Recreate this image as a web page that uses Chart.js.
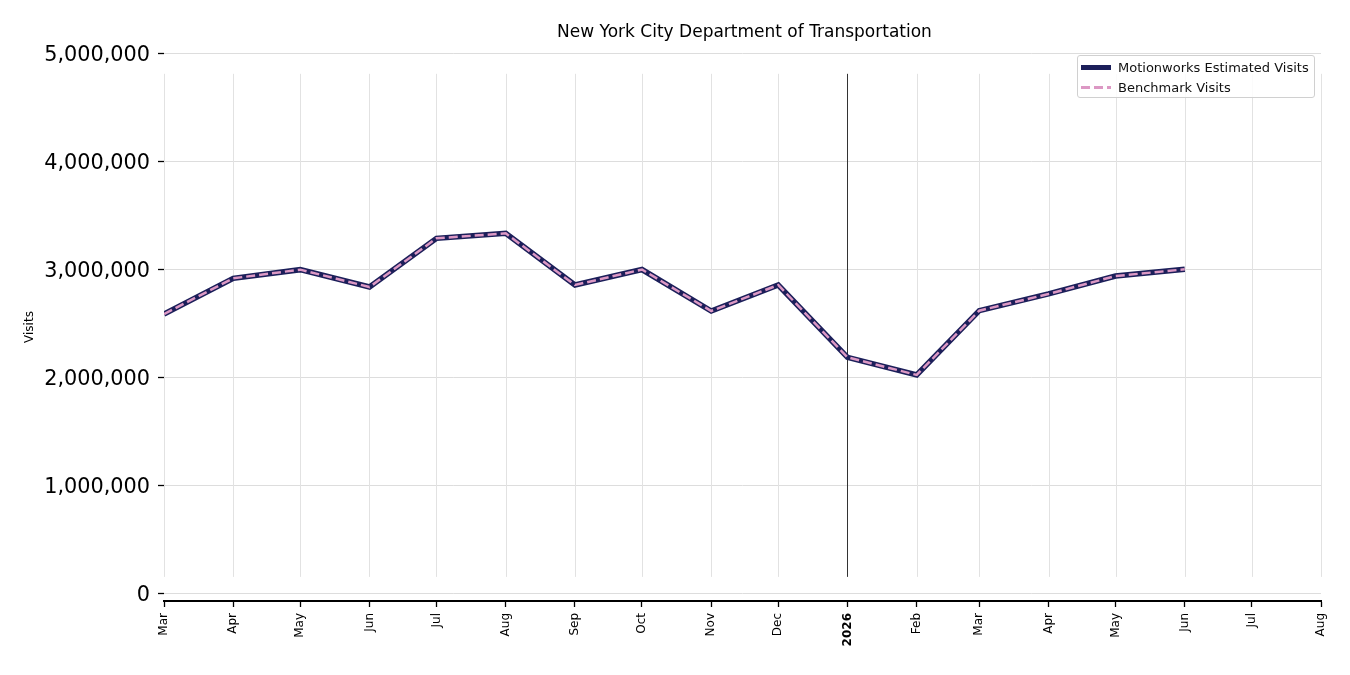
<!DOCTYPE html>
<html>
<head>
<meta charset="utf-8">
<script src="https://cdn.jsdelivr.net/npm/chart.js@4.4.1/dist/chart.umd.min.js"></script>
<style>
  html, body { margin: 0; padding: 0; background: #fff; }
  #wrap { position: relative; width: 1350px; height: 675px; }
  #legend {
    position: absolute; left: 1077px; top: 55px; width: 236px; height: 41px;
    border: 1px solid #d0d0d0; border-radius: 3px; background: rgba(255,255,255,0.85);
    font-family: "DejaVu Sans", sans-serif; font-size: 13px; color: #111;
  }
  .item { position: absolute; left: 3px; height: 20px; display: flex; align-items: center; white-space: nowrap; }
  .item .sw { width: 30px; height: 0; margin-right: 7px; }
</style>
</head>
<body>
<div id="wrap">
  <canvas id="c" width="1350" height="675"></canvas>
  <div id="legend">
    <div class="item" style="top:1px"><div class="sw" style="border-top:5px solid #1c1f5a"></div><span>Motionworks Estimated Visits</span></div>
    <div class="item" style="top:21px"><div class="sw" style="height:3px;border:0;background:repeating-linear-gradient(90deg,#dc98c4 0 9px,transparent 9px 13px)"></div><span>Benchmark Visits</span></div>
  </div>
</div>
<script>
const chartTitle = 'New York City Department of Transportation';
const dates = ['2025-03-01','2025-04-01','2025-05-01','2025-06-01','2025-07-01','2025-08-01','2025-09-01','2025-10-01','2025-11-01','2025-12-01','2026-01-01','2026-02-01','2026-03-01','2026-04-01','2026-05-01','2026-06-01'];
const motionworks = [2583000, 2914000, 2994000, 2833000, 3284000, 3330000, 2852000, 2995000, 2611000, 2852000, 2182000, 2019000, 2614000, 2769000, 2935000, 2997000];
const benchmark   = [2583000, 2914000, 2994000, 2833000, 3284000, 3330000, 2852000, 2995000, 2611000, 2852000, 2182000, 2019000, 2614000, 2769000, 2935000, 2997000];
const tickDates = ['2025-03-01','2025-04-01','2025-05-01','2025-06-01','2025-07-01','2025-08-01','2025-09-01','2025-10-01','2025-11-01','2025-12-01','2026-01-01','2026-02-01','2026-03-01','2026-04-01','2026-05-01','2026-06-01','2026-07-01','2026-08-01'];
const tickLabels = ['Mar','Apr','May','Jun','Jul','Aug','Sep','Oct','Nov','Dec','2026','Feb','Mar','Apr','May','Jun','Jul','Aug'];
const yTicks = [0, 1000000, 2000000, 3000000, 4000000, 5000000];
const yMin = -74000, yMax = 5000000;
const yearMarker = '2026-01-01';

function toDay(s) { const p = s.split('-').map(Number); return Date.UTC(p[0], p[1]-1, p[2]) / 86400000; }
const mwData = dates.map((d, i) => ({ x: toDay(d), y: motionworks[i] }));
const bmData = dates.map((d, i) => ({ x: toDay(d), y: benchmark[i] }));
const tickVals = tickDates.map(toDay);
const yearVal = toDay(yearMarker);

const FONT = '"DejaVu Sans", sans-serif';

const deco = {
  id: 'deco',
  beforeDatasetsDraw(chart) {
    const { ctx, chartArea: a, scales: { x } } = chart;
    const h = a.bottom - a.top;
    const y0 = a.top + h * 0.038, y1 = a.bottom - h * 0.044;
    ctx.save();
    tickVals.forEach(v => {
      const px = Math.round(x.getPixelForValue(v)) + 0.5;
      ctx.beginPath();
      ctx.strokeStyle = v === yearVal ? '#333333' : '#e2e2e2';
      ctx.lineWidth = 1;
      ctx.moveTo(px, y0); ctx.lineTo(px, y1); ctx.stroke();
    });
    ctx.restore();
  },
  afterDraw(chart) {
    const { ctx, chartArea: a } = chart;
    ctx.save();
    ctx.font = '17px ' + FONT;
    ctx.fillStyle = '#000';
    ctx.textAlign = 'center';
    ctx.textBaseline = 'alphabetic';
    ctx.fillText(chartTitle, (a.left + a.right) / 2 + 2, 37);
    ctx.restore();
  }
};

new Chart(document.getElementById('c'), {
  type: 'line',
  data: {
    datasets: [
      { label: 'Benchmark Visits', data: bmData, borderColor: '#dc98c4', borderWidth: 2.5, borderDash: [9, 4], pointRadius: 0, tension: 0, order: 0 },
      { label: 'Motionworks Estimated Visits', data: mwData, borderColor: '#1c1f5a', borderWidth: 5.5, pointRadius: 0, tension: 0, order: 1 }
    ]
  },
  options: {
    responsive: false,
    animation: false,
    devicePixelRatio: 1,
    layout: { padding: { top: 53, right: 29, left: 0, bottom: 0 } },
    plugins: { legend: { display: false }, title: { display: false }, tooltip: { enabled: false } },
    scales: {
      x: {
        type: 'linear',
        min: tickVals[0], max: tickVals[tickVals.length - 1],
        afterBuildTicks: s => { s.ticks = tickVals.map(v => ({ value: v })); },
        afterFit: s => { s.height = 74; },
        grid: { drawOnChartArea: false, drawTicks: true, tickLength: 6, tickColor: '#000', tickWidth: 1.3 },
        border: { display: true, color: '#000', width: 2 },
        ticks: {
          autoSkip: false, maxRotation: 90, minRotation: 90, padding: 6, color: '#000',
          font: c => (c.tick && c.tick.value === yearVal) ? { family: FONT, size: 12, weight: 'bold' } : { family: FONT, size: 12 },
          callback: (v, i) => tickLabels[i]
        }
      },
      y: {
        min: yMin, max: yMax,
        afterBuildTicks: s => { s.ticks = yTicks.map(v => ({ value: v })); },
        afterFit: s => { s.width = 164; },
        grid: { color: '#dddddd', lineWidth: 1, tickColor: '#000', tickLength: 6, tickWidth: 1.3 },
        border: { display: false },
        ticks: { color: '#000', padding: 8, font: { family: FONT, size: 20.8, lineHeight: '5px' }, callback: v => ['', v.toLocaleString('en-US')] },
        title: { display: true, text: 'Visits', color: '#000', font: { family: FONT, size: 12 }, padding: { top: 23, bottom: 0 } }
      }
    }
  },
  plugins: [deco]
});
</script>
</body>
</html>
